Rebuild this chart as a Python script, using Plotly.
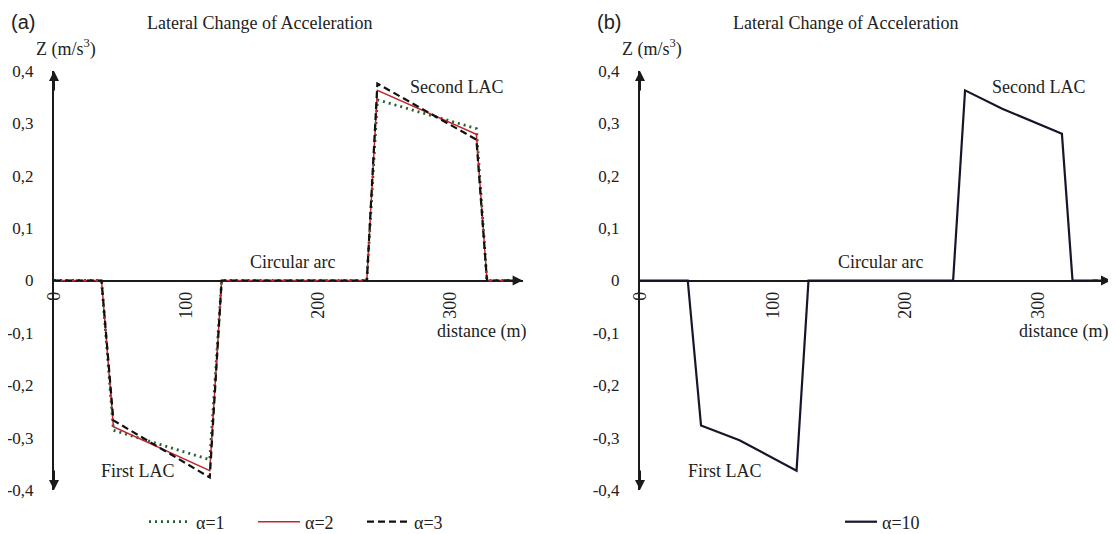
import plotly.graph_objects as go

# ---------------- data ----------------
# panel (a): distance (m) and lateral change of acceleration Z (m/s^3)
dist_a = [0, 36, 45, 118, 127, 237, 245, 320, 328, 345]
z_alpha1 = [0, 0, -0.286, -0.342, 0, 0, 0.345, 0.290, 0, 0]
z_alpha2 = [0, 0, -0.279, -0.363, 0, 0, 0.363, 0.279, 0, 0]
z_alpha3 = [0, 0, -0.267, -0.376, 0, 0, 0.376, 0.269, 0, 0]

# panel (b)
dist_b = [0, 36, 46, 75, 118, 127, 236, 245, 273, 300, 318, 326, 345]
z_alpha10 = [0, 0, -0.277, -0.305, -0.363, 0, 0, 0.363, 0.328, 0.300, 0.280, 0, 0]

y_tick_vals = [-0.4, -0.3, -0.2, -0.1, 0, 0.1, 0.2, 0.3, 0.4]
y_tick_text = ["-0,4", "-0,3", "-0,2", "-0,1", "0", "0,1", "0,2", "0,3", "0,4"]
x_tick_vals = [0, 100, 200, 300]
x_tick_text = ["0", "100", "200", "300"]

panel_titles = ["Lateral Change of Acceleration", "Lateral Change of Acceleration"]
panel_letters = ["(a)", "(b)"]

# ---------------- layout geometry ----------------
# the page body has an 8px margin, so the figure is made 8px smaller and
# window-pixel positions are converted to figure-paper fractions.
OFF = 8
W, H = 1116 - OFF, 534 - OFF
SERIF = "Liberation Serif, Times New Roman, serif"
SANS = "Liberation Sans, Arial, sans-serif"
AX = "#1a1a1a"
TXT = "#222222"


def px_x(px):
    return (px - OFF) / W


def px_y(py):
    return 1 - (py - OFF) / H


y_dom = [px_y(490), px_y(71)]
y_mid = (y_dom[0] + y_dom[1]) / 2
xa_dom = [px_x(54), px_x(522.6)]
xb_dom = [px_x(640), px_x(1111)]
x_range = [0, 355]
y_range = [-0.4, 0.4]

fig = go.Figure()

fig.add_trace(go.Scatter(x=dist_a, y=z_alpha1, mode="lines", name="α=1",
                         line=dict(color="#25602f", width=2.8, dash="2px,4px"),
                         xaxis="x", yaxis="y", legend="legend"))
fig.add_trace(go.Scatter(x=dist_a, y=z_alpha2, mode="lines", name="α=2",
                         line=dict(color="#c0282e", width=1.5),
                         xaxis="x", yaxis="y", legend="legend"))
fig.add_trace(go.Scatter(x=dist_a, y=z_alpha3, mode="lines", name="α=3",
                         line=dict(color="#111111", width=2.2, dash="7px,4px"),
                         xaxis="x", yaxis="y", legend="legend"))
fig.add_trace(go.Scatter(x=dist_b, y=z_alpha10, mode="lines", name="α=10",
                         line=dict(color="#16162a", width=2.2),
                         xaxis="x2", yaxis="y2", legend="legend2"))


def xaxis_cfg(dom):
    return dict(domain=dom, range=x_range, anchor="free",
                position=y_mid, showline=True, linecolor=AX, linewidth=2,
                zeroline=False, showgrid=False, tickvals=x_tick_vals,
                ticktext=x_tick_text, tickangle=-90, ticks="", automargin=False,
                ticklabelstandoff=3, tickfont=dict(family=SERIF, size=18, color=TXT),
                layer="below traces", fixedrange=True)


def yaxis_cfg(xname):
    return dict(domain=y_dom, range=y_range, anchor=xname, showline=True,
                linecolor=AX, linewidth=2, zeroline=False, showgrid=False,
                tickvals=y_tick_vals, ticktext=y_tick_text, ticks="", automargin=False,
                ticklabelstandoff=15, tickfont=dict(family=SERIF, size=17, color=TXT),
                layer="below traces", fixedrange=True)


fig.update_layout(
    width=W, height=H,
    margin=dict(l=0, r=0, t=0, b=0, autoexpand=False),
    paper_bgcolor="white", plot_bgcolor="white",
    font=dict(family=SERIF, size=18, color=TXT),
    xaxis=xaxis_cfg(xa_dom),
    yaxis=yaxis_cfg("x"),
    xaxis2=xaxis_cfg(xb_dom),
    yaxis2=yaxis_cfg("x2"),
    legend=dict(orientation="h", x=px_x(144), y=px_y(522), xanchor="left", yanchor="middle",
                font=dict(family=SERIF, size=18, color=TXT), bgcolor="rgba(0,0,0,0)",
                itemwidth=42, entrywidth=52, entrywidthmode="pixels"),
    legend2=dict(orientation="h", x=px_x(840), y=px_y(522), xanchor="left", yanchor="middle",
                 font=dict(family=SERIF, size=18, color=TXT), bgcolor="rgba(0,0,0,0)",
                 itemwidth=32),
    showlegend=True,
)

annotations = []
for xr, yr, second_x, dist_x in [("x", "y", 305, 324), ("x2", "y2", 301, 319)]:
    # arrowheads on the axes
    for tip, tail in [((0, 0.4), (0, 0.36)), ((0, -0.4), (0, -0.36)), ((355, 0), (340, 0))]:
        annotations.append(dict(x=tip[0], y=tip[1], ax=tail[0], ay=tail[1], xref=xr, yref=yr,
                                axref=xr, ayref=yr, text="", showarrow=True, arrowhead=2,
                                arrowsize=1, arrowwidth=2, arrowcolor=AX))
    # in-plot labels
    for tx, ty, label in [(second_x, 0.37, "Second LAC"), (181, 0.036, "Circular arc"),
                          (64, -0.363, "First LAC"), (dist_x, -0.097, "distance (m)")]:
        annotations.append(dict(x=tx, y=ty, xref=xr, yref=yr, text=label, showarrow=False,
                                font=dict(family=SERIF, size=18, color=TXT)))

x0_px = [54, 640]
for i, (letter, title) in enumerate(zip(panel_letters, panel_titles)):
    annotations.append(dict(x=px_x(x0_px[i] - 31), y=px_y(22), xref="paper", yref="paper",
                            text=letter, showarrow=False, xanchor="center", yanchor="middle",
                            font=dict(family=SANS, size=20, color=TXT)))
    annotations.append(dict(x=px_x(x0_px[i] + 205), y=px_y(23), xref="paper", yref="paper",
                            text=title, showarrow=False, xanchor="center", yanchor="middle",
                            font=dict(family=SERIF, size=18, color=TXT)))
    annotations.append(dict(x=px_x(x0_px[i] + 12), y=px_y(48), xref="paper", yref="paper",
                            text="Z (m/s<sup>3</sup>)", showarrow=False, xanchor="center",
                            yanchor="middle", font=dict(family=SERIF, size=18, color=TXT)))

fig.update_layout(annotations=annotations)

fig.write_html("out.html")
